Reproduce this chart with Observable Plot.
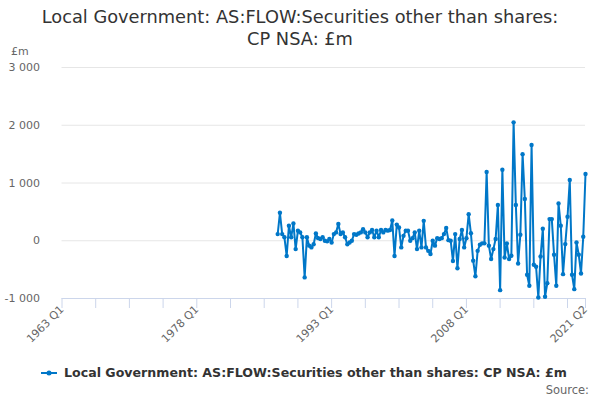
<!DOCTYPE html>
<html><head><meta charset="utf-8">
<script src="https://cdn.jsdelivr.net/npm/d3@7"></script>
<script src="https://cdn.jsdelivr.net/npm/@observablehq/plot@0.6"></script>
<style>
body{margin:0;background:#fff;font-family:"DejaVu Sans",sans-serif;}
#wrap{position:relative;width:600px;height:400px;overflow:hidden;background:#fff}
#title{position:absolute;top:6px;left:0;width:600px;text-align:center;font-size:17.8px;line-height:22px;color:#333}
#unit{position:absolute;left:11px;top:45px;font-size:11px;color:#666}
#chart{position:absolute;left:0;top:50px}
#legend{position:absolute;top:365px;left:41px;font-size:12.6px;font-weight:bold;color:#333;display:flex;align-items:center;white-space:nowrap}
#source{position:absolute;right:11px;top:383px;font-size:11.5px;color:#666}
</style></head>
<body>
<div id="wrap">
  <div id="title">Local Government: AS:FLOW:Securities other than shares:<br>CP NSA: £m</div>
  <div id="unit">£m</div>
  <div id="chart"></div>
  <div id="legend"><svg width="18" height="10" style="margin-right:5px"><line x1="0" y1="5" x2="16" y2="5" stroke="#0077c8" stroke-width="2"/><circle cx="8" cy="5" r="2.5" fill="#0077c8"/></svg><span id="legtext"></span></div>
  <div id="source">Source:</div>
</div>
<script>
const seriesName = "Local Government: AS:FLOW:Securities other than shares: CP NSA: £m";
const axisStartYear = 1963;   // first category on the axis: 1963 Q1
const dataStartYear = 1987;   // first quarter with a value: 1987 Q1
const values = [
  115, 485, 115, 60, -265, 260, 60, 300, -145, 175, 145, 60, -635, 60, -85, -115,
  -60, 125, 45, 30, 60, 0, -10, 30, -30, 115, 145, 290, 115, 145, 60, -60,
  -30, 0, 115, 105, 125, 145, 200, 145, 60, 145, 185, 60, 175, 60, 185, 145,
  185, 175, 185, 350, -265, 280, 230, -115, 85, 175, 175, 0, 45, 145, -145, 175,
  -115, 345, -115, -175, -230, 0, -85, 45, 30, 45, 115, 220, 10, 0, -350, 115,
  -475, 30, 185, -115, 45, 460, 130, -345, -615, -175, -70, -45, -45, 1190, -85, -315,
  -145, 30, 620, -855, 1230, -290, -46, -318, -260, 2050, 618, -393, 104, 1500, 722, -590,
  -780, 1658, -416, -450, -982, -272, 208, -970, -734, 375, 375, -243, -780, 647, 260, -578,
  -58, 416, 1051, -590, -838, -29, -243, -566, 69, 1155
];
const yTicks = [-1000, 0, 1000, 2000, 3000];
const xTickLabels = ["1963 Q1", "1978 Q1", "1993 Q1", "2008 Q1", "2021 Q2"];
const xLabelIndex = [0, 60, 120, 180, 233];
const xMinorStep = 15;
const lastIndex = 233;
const color = "#0077c8";

document.getElementById("legtext").textContent = seriesName;

const offset = (dataStartYear - axisStartYear) * 4;
const data = values.map((v, k) => ({i: offset + k, v}));
const minorTicks = d3.range(0, lastIndex, xMinorStep).concat([lastIndex]);
const labelOf = new Map(xLabelIndex.map((d, k) => [d, xTickLabels[k]]));
const fmt = d => (d < 0 ? "-" : "") + d3.format(",")(Math.abs(d)).replace(/,/g, " ");

const chart = Plot.plot({
  width: 600,
  height: 300,
  marginTop: 17,
  marginBottom: 52,
  marginLeft: 61.5,
  marginRight: 15,
  style: {fontFamily: "DejaVu Sans, sans-serif", fontSize: "11px", color: "#666", background: "transparent"},
  x: {domain: [0, lastIndex]},
  y: {domain: [-1000, 3000]},
  marks: [
    Plot.ruleY(yTicks.filter(d => d > -1000), {stroke: "#e6e6e6", strokeWidth: 1}),
    Plot.ruleY([-1000], {stroke: "#ccd6eb", strokeWidth: 1}),
    Plot.axisY({ticks: yTicks, tickSize: 0, tickPadding: 22, tickFormat: fmt, label: null, fill: "#666"}),
    Plot.axisX({ticks: minorTicks, tickSize: 10, stroke: "#ccd6eb", tickFormat: () => "", label: null}),
    Plot.axisX({ticks: xLabelIndex, tickSize: 0, tickPadding: 9, tickRotate: -45, tickFormat: d => labelOf.get(d), label: null, fill: "#666"}),
    Plot.line(data, {x: "i", y: "v", stroke: color, strokeWidth: 2}),
    Plot.dot(data, {x: "i", y: "v", r: 2.2, fill: color})
  ]
});
document.getElementById("chart").appendChild(chart);
</script>
</body></html>
